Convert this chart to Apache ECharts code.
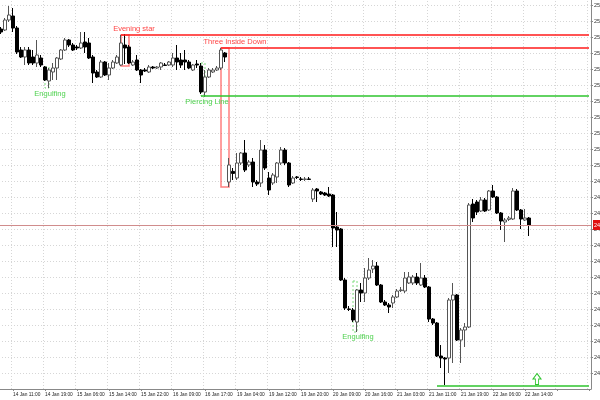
<!DOCTYPE html>
<html>
<head>
<meta charset="utf-8">
<script src="https://cdn.jsdelivr.net/npm/echarts@6/dist/echarts.min.js"></script>
<style>
    html, body { margin: 0; padding: 0; background: #fff; }
    #main { width: 600px; height: 400px; }
</style>
</head>
<body>
<div id="main"></div>
<script>
// time slots (one per hourly bar), the chart keeps empty room on the right
const slotCount = 148;
const firstLabelSlot = 3;
const labelEvery = 8;
const tickLabels = ['14 Jan 11:00', '14 Jan 19:00', '15 Jan 06:00', '15 Jan 14:00', '15 Jan 22:00', '16 Jan 09:00',
    '16 Jan 17:00', '19 Jan 04:00', '19 Jan 12:00', '19 Jan 20:00', '20 Jan 09:00', '20 Jan 16:00',
    '21 Jan 03:00', '21 Jan 11:00', '21 Jan 19:00', '22 Jan 06:00', '22 Jan 14:00'];

// [open, close, low, high]
// prettier-ignore
const candles = [
    [2572, 2570.5, 2569.5, 2573], [2571.5, 2576.5, 2571, 2577.5], [2576.5, 2579, 2575.5, 2583.5], [2578.5, 2572.5, 2570.5, 2582.5],
    [2572.5, 2560.5, 2559.5, 2573.5], [2561.5, 2558, 2557.5, 2563], [2558, 2561.5, 2554, 2563], [2561.5, 2555, 2554, 2563],
    [2558, 2555, 2554, 2561.5], [2555, 2559, 2553, 2566.5], [2557.5, 2554, 2553, 2559], [2553, 2546.5, 2546, 2553.5],
    [2546, 2551.5, 2542.5, 2552.5], [2550.5, 2552.5, 2546.5, 2555], [2552.5, 2557.5, 2546.5, 2558], [2557, 2561.5, 2556.5, 2562],
    [2561.5, 2566.5, 2561, 2567.5], [2566.5, 2564, 2563, 2567], [2564, 2561.5, 2561, 2565], [2563, 2562.5, 2561.5, 2564],
    [2562.5, 2565, 2562, 2570.5], [2565.5, 2563, 2560, 2570.5], [2565, 2557.5, 2557, 2567.5], [2558, 2550, 2545, 2559],
    [2550.5, 2548, 2547.5, 2551.5], [2548, 2555.5, 2547.5, 2556.5], [2555.5, 2549, 2548.5, 2556], [2549, 2552.5, 2546.5, 2555],
    [2552.5, 2555.5, 2552, 2556.5], [2555, 2558, 2554.5, 2559], [2554, 2565, 2553.5, 2569], [2564, 2562.5, 2554.5, 2569.5],
    [2563, 2555, 2554.5, 2564], [2554, 2555.5, 2553.5, 2556.5], [2556.5, 2551.5, 2551, 2559], [2551.5, 2549, 2545, 2552],
    [2551.5, 2551, 2550.5, 2552.5], [2550.5, 2553, 2550, 2554], [2553, 2552.5, 2552, 2553.5], [2552.5, 2553, 2552, 2553.5],
    [2553, 2555, 2551.5, 2555.5], [2554, 2553.8, 2553.5, 2555], [2554, 2555.5, 2553.5, 2556], [2554, 2557.5, 2553, 2560],
    [2557.5, 2555.5, 2551.5, 2564], [2556.5, 2554, 2552.5, 2560], [2556.5, 2555.5, 2551.5, 2561.5], [2555.5, 2552.5, 2552, 2556.5],
    [2551.5, 2554, 2551, 2554.5], [2554.5, 2554, 2552.5, 2556.5], [2553.5, 2540.5, 2539.5, 2555], [2540.5, 2548, 2538, 2551.5],
    [2548, 2551.5, 2547.5, 2552.5], [2550.5, 2551.5, 2550, 2552.5], [2551.5, 2552.5, 2551, 2553.5], [2552.5, 2561.5, 2551.5, 2562.5],
    [2560, 2558, 2555.5, 2560.5], [2495.5, 2504, 2493, 2507.5], [2500.8, 2499.8, 2496.5, 2502.5], [2497.5, 2505, 2496.5, 2510],
    [2505, 2510, 2504, 2510.5], [2510, 2501.5, 2500.5, 2516.5], [2504, 2505.5, 2503, 2506.5], [2505.5, 2495.5, 2493, 2507.5],
    [2495.5, 2494.5, 2493.5, 2496.5], [2495, 2511.5, 2493, 2516.5], [2511.5, 2502.5, 2501.5, 2514], [2497.5, 2491.5, 2489, 2500.5],
    [2495, 2499, 2494, 2500], [2498, 2505, 2495, 2505.5], [2505, 2511.5, 2504, 2513], [2511.5, 2505, 2504, 2512.5],
    [2505, 2494, 2493, 2505.5], [2495, 2497.5, 2494.5, 2498.5], [2498, 2497.8, 2497, 2498.5], [2497, 2496.8, 2496, 2498],
    [2496.8, 2497, 2496, 2498], [2497, 2496.8, 2496.5, 2498], [2487, 2491.5, 2485.5, 2492.5], [2492, 2491, 2485.5, 2492.5],
    [2490.5, 2489.5, 2489, 2491], [2490, 2489, 2488.5, 2490.5], [2489.5, 2488.5, 2488, 2493], [2489, 2472.5, 2463, 2489.5],
    [2473, 2471.5, 2463, 2480.5], [2472, 2446.5, 2446, 2472.5], [2446.5, 2432.5, 2431.5, 2447.5], [2432, 2431.8, 2431, 2433.5],
    [2431.5, 2426.5, 2425.5, 2432.5], [2425.5, 2441.5, 2420.5, 2442], [2441.5, 2440, 2435.5, 2445], [2440, 2447.5, 2435.5, 2452.5],
    [2447.5, 2451.5, 2446.5, 2457.5], [2452, 2453.5, 2450, 2456.5], [2453.5, 2444, 2443.5, 2455.5], [2444, 2435.5, 2435, 2444.5],
    [2435.5, 2434, 2433.5, 2436.5], [2434, 2433, 2430, 2435], [2435, 2438, 2432.5, 2439], [2438, 2441, 2437.5, 2442],
    [2441.2, 2441.5, 2440.5, 2443], [2441, 2447.5, 2440, 2450.5], [2445, 2448, 2444.5, 2450.5], [2445, 2448, 2444, 2449],
    [2448, 2445, 2444, 2450], [2444, 2447.5, 2443.5, 2455], [2447.5, 2443, 2442.5, 2449], [2443, 2427, 2425.5, 2443.5],
    [2427, 2425, 2424, 2427.5], [2425, 2408.5, 2408, 2425.5], [2408.5, 2407.5, 2402.5, 2414], [2407.5, 2407, 2394, 2408],
    [2407.5, 2436.5, 2400, 2437.5], [2436.5, 2439, 2405, 2445], [2439, 2416.5, 2416, 2439.5], [2416.5, 2421.5, 2405, 2422.5],
    [2421.5, 2423, 2413, 2425], [2423, 2484, 2422.5, 2485], [2484.5, 2477.5, 2475.5, 2487], [2485.5, 2480.5, 2479, 2486.5],
    [2481, 2486.5, 2480.5, 2488], [2486.5, 2481, 2480.5, 2487.5], [2481.5, 2491, 2481, 2491.5], [2491, 2488, 2487.5, 2494],
    [2488, 2480, 2479.5, 2488.5], [2480, 2476, 2471.5, 2480.5], [2475.5, 2476.5, 2465.5, 2477.5], [2476.8, 2477.5, 2476, 2478.5],
    [2477, 2491, 2476.5, 2492.5], [2491, 2481.5, 2481, 2492], [2481.5, 2477, 2472, 2482], [2476.5, 2477.5, 2476, 2482],
    [2477.5, 2474, 2468.5, 2478]
];
const lastPrice = 2474;

// candle patterns found by the indicator
const patternNames = ['Evening star', 'Three Inside Down', 'Piercing Line', 'Engulfing', 'Engulfing'];
const patternFrom = [30, 55, 50, 11, 88];
const patternTo = [32, 57, 51, 12, 89];
const patternTop = [2569, 2562.5, 2555, 2553, 2446];
const patternBottom = [2553.5, 2493, 2538.5, 2542.5, 2420.5];
const patternBullish = [false, false, true, true, true];

// levels drawn from a pattern to the right edge
const levelFrom = [30, 55, 50, 109];
const levelPrice = [2569, 2562.5, 2538.5, 2393.5];
const levelBullish = [false, false, true, true];

const arrowSlot = 134;
const arrowPrice = 2397;

const categories = [];
for (let i = 0; i < slotCount; i++) {
    categories.push(String(i));
}

const isLabelSlot = (index) => index >= firstLabelSlot && (index - firstLabelSlot) % labelEvery === 0;

const RED = "#ff1a1a";
const GREEN = "#2ec52e";

// where each pattern's name sits around its box
const labelPlace = [
    { position: "top", offset: [9, 0] },
    { position: "top", offset: [10, 0] },
    { position: "bottom", offset: [4, 0] },
    { position: "bottom", offset: [3, 0] },
    { position: "bottom", offset: [3, -1] },
];

const areaData = patternNames.map(function (name, k) {
    const bull = patternBullish[k];
    return [
        {
            name: name,
            coord: [patternFrom[k], patternTop[k]],
            itemStyle: {
                color: "rgba(0,0,0,0)",
                borderColor: bull ? "#7fdc7f" : "rgba(255,40,40,0.6)",
                borderWidth: bull ? 1 : 1.5,
                borderType: bull ? [2, 2] : "solid",
            },
            label: {
                show: true,
                position: labelPlace[k].position,
                offset: labelPlace[k].offset,
                distance: 1,
                color: bull ? "#4fd24f" : "#ff4545",
                fontSize: 7.5,
                fontFamily: "Liberation Sans",
            },
        },
        { coord: [patternTo[k], patternBottom[k]] },
    ];
});

// one flat line series per level
const levelSeries = levelPrice.map(function (price, k) {
    return {
        type: "line",
        data: [[levelFrom[k], price], [slotCount - 1, price]],
        symbol: "none",
        silent: true,
        z: 3,
        lineStyle: { color: levelBullish[k] ? GREEN : RED, width: 1.3 },
    };
});

var myChart = echarts.init(document.getElementById("main"));
var option = {
    animation: false,
    backgroundColor: "#fff",
    grid: {
        left: -1,
        right: 9,
        top: -11,
        bottom: 11,
        containLabel: false,
        outerBoundsMode: "none",
    },
    xAxis: {
        type: "category",
        data: categories,
        boundaryGap: true,
        axisLine: { lineStyle: { color: "#888" } },
        axisTick: {
            show: true,
            alignWithLabel: true,
            interval: (index) => isLabelSlot(index),
            length: 2,
            lineStyle: { color: "#888" },
        },
        axisLabel: {
            interval: (index) => isLabelSlot(index),
            formatter: (value, index) => (isLabelSlot(index) ? tickLabels[(index - firstLabelSlot) / labelEvery] || "" : ""),
            align: "left",
            margin: 3,
            fontSize: 4.8,
            color: "#222",
            fontFamily: "Liberation Sans",
        },
        splitLine: {
            show: true,
            interval: (index) => isLabelSlot(index),
            lineStyle: { color: "#d6d6d6", type: [1, 2] },
        },
    },
    yAxis: {
        type: "value",
        position: "right",
        min: 2392,
        max: 2592,
        interval: 8,
        axisLine: { show: true, lineStyle: { color: "#888" } },
        axisTick: { show: true, length: 2, lineStyle: { color: "#888" } },
        axisLabel: {
            margin: 3,
            fontSize: 5.5,
            color: "#333",
            fontFamily: "Liberation Sans",
            showMinLabel: false,
            showMaxLabel: false,
            formatter: (v) => v.toFixed(1),
        },
        splitLine: { show: true, lineStyle: { color: "#d6d6d6", type: [1, 2] } },
    },
    series: [
        {
            type: "candlestick",
            data: candles,
            barWidth: 3,
            itemStyle: {
                color: "#ffffff",
                color0: "#000000",
                borderColor: "#555555",
                borderColor0: "#000000",
                borderWidth: 1,
            },
            markArea: {
                silent: true,
                data: areaData,
            },
            markLine: {
                silent: true,
                symbol: "none",
                data: [
                    {
                        yAxis: lastPrice,
                        lineStyle: { color: "#d08c8c", width: 1, type: "solid" },
                        label: {
                            show: true,
                            position: "end",
                            distance: 2,
                            formatter: lastPrice.toFixed(1),
                            color: "#fff",
                            backgroundColor: "#e01010",
                            padding: [2, 1],
                            fontSize: 5.5,
                        },
                    },
                ],
            },
            markPoint: {
                silent: true,
                data: [
                    {
                        coord: [arrowSlot, arrowPrice],
                        symbol: "path://M5,0 L10,5 L7,5 L7,10 L3,10 L3,5 L0,5 Z",
                        symbolSize: [8, 11],
                        itemStyle: { color: "#fff", borderColor: GREEN, borderWidth: 1 },
                        label: { show: false },
                    },
                ],
            },
        },
    ].concat(levelSeries),
};

option && myChart.setOption(option);
</script>
</body>
</html>
